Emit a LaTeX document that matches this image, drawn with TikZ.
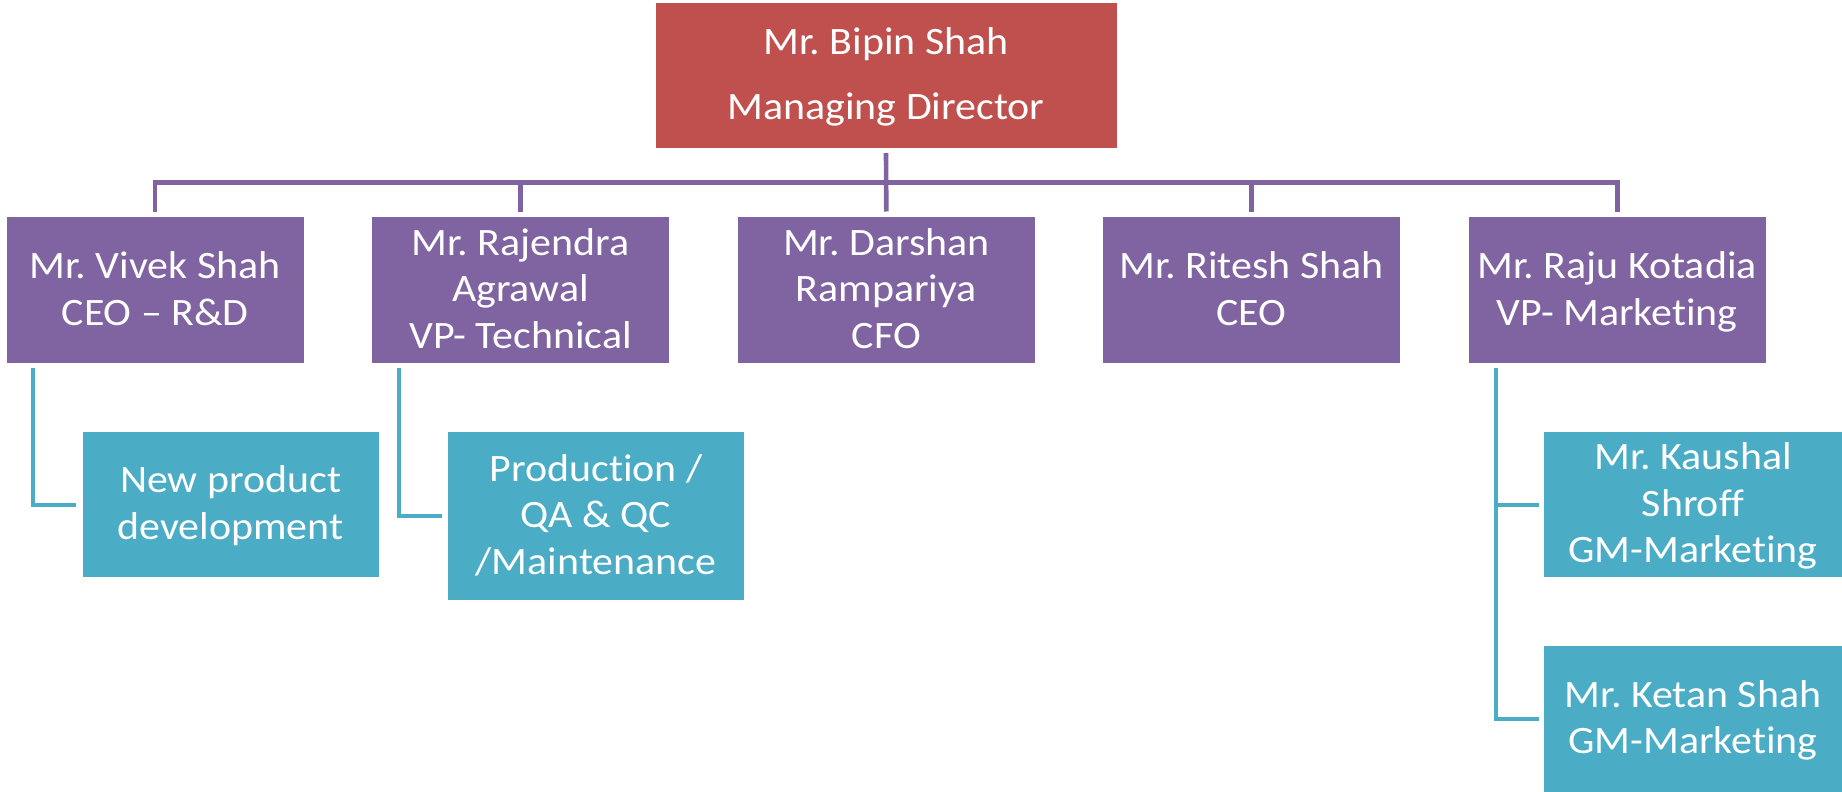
\documentclass[tikz,border=0pt]{standalone}
\usepackage{fontspec}
\setmainfont{Carlito}[FakeStretch=1.08, Ligatures={NoCommon}]
\usetikzlibrary{calc}
\frenchspacing
\definecolor{mdred}{HTML}{C0504D}
\definecolor{vppurple}{HTML}{8064A2}
\definecolor{subteal}{HTML}{4BACC6}
\newcommand\mystrut{\rule[-11.65pt]{0pt}{46.7pt}}
\tikzset{
  box/.style={rectangle, inner sep=0pt, align=center, text=white,
    font=\fontsize{38.8}{46.7}\selectfont\frenchspacing},
  mdbox/.style={box, fill=mdred, minimum width=461pt, minimum height=145pt},
  vpbox/.style={box, fill=vppurple, minimum width=297pt, minimum height=145.4pt},
  subbox/.style={box, fill=subteal, minimum width=296pt, minimum height=145.6pt},
  pline/.style={draw=vppurple, line width=4.6pt, line join=miter},
  tline/.style={draw=subteal, line width=4pt, line join=miter}
}
\begin{document}
\begin{tikzpicture}[x=1pt,y=-1pt]
\useasboundingbox (0,0) rectangle (1842,792);

\node[mdbox] (md) at (886,75.2) {\mystrut Mr. Bipin Shah\\[18.3pt]Managing Director\mystrut};

\node[vpbox] (vivek)    at (155.1,290)  {\mystrut Mr. Vivek Shah\\CEO – R\&D\mystrut};
\node[vpbox] (rajendra) at (520.5,290)  {\mystrut Mr. Rajendra\\Agrawal\\VP- Technical\mystrut};
\node[vpbox] (darshan)  at (886.3,290)  {\mystrut Mr. Darshan\\Rampariya\\CFO\mystrut};
\node[vpbox] (ritesh)   at (1251.4,290) {\mystrut Mr. Ritesh Shah\\CEO\mystrut};
\node[vpbox] (raju)     at (1617.2,290) {\mystrut Mr. Raju Kotadia\\VP- Marketing\mystrut};

\node[subbox] (npd)  at (230.6,504.5) {\mystrut New product\\development\mystrut};
\node[subbox, minimum height=168.6pt] (prod) at (596,516) {\mystrut Production /\\QA \& QC\\/Maintenance\mystrut};
\node[subbox, minimum width=297.4pt] (kaushal) at (1693,504.5) {\mystrut Mr. Kaushal\\Shroff\\GM-Marketing\mystrut};
\node[subbox, minimum width=297.4pt, minimum height=145.7pt] (ketan) at (1693,718.8) {\mystrut Mr. Ketan Shah\\GM-Marketing\mystrut};

% purple connectors
\coordinate (bus) at (0,182.7);
\draw[pline] ($(md.south)+(0,5.3)$) -- ($(darshan.north)+(0,-5.6)$);
\draw[pline] ($(vivek.north)+(0,-5.6)$) -- (vivek.north |- bus) -- (raju.north |- bus) -- ($(raju.north)+(0,-5.6)$);
\draw[pline] (rajendra.north |- bus) -- ($(rajendra.north)+(0,-5.6)$);
\draw[pline] (ritesh.north |- bus) -- ($(ritesh.north)+(0,-5.6)$);

% teal connectors
\coordinate (t1) at ($(vivek.south west)+(27,5.3)$);
\coordinate (t2) at ($(rajendra.south west)+(27,5.3)$);
\coordinate (t5) at ($(raju.south west)+(27.5,5.3)$);
\draw[tline] (t1) |- ($(npd.west)+(-6,0)$);
\draw[tline] (t2) |- ($(prod.west)+(-6,0)$);
\draw[tline] (t5) |- ($(ketan.west)+(-5.5,0)$);
\draw[tline] (t5 |- kaushal.west) -- ($(kaushal.west)+(-5.5,0)$);
\end{tikzpicture}
\end{document}
